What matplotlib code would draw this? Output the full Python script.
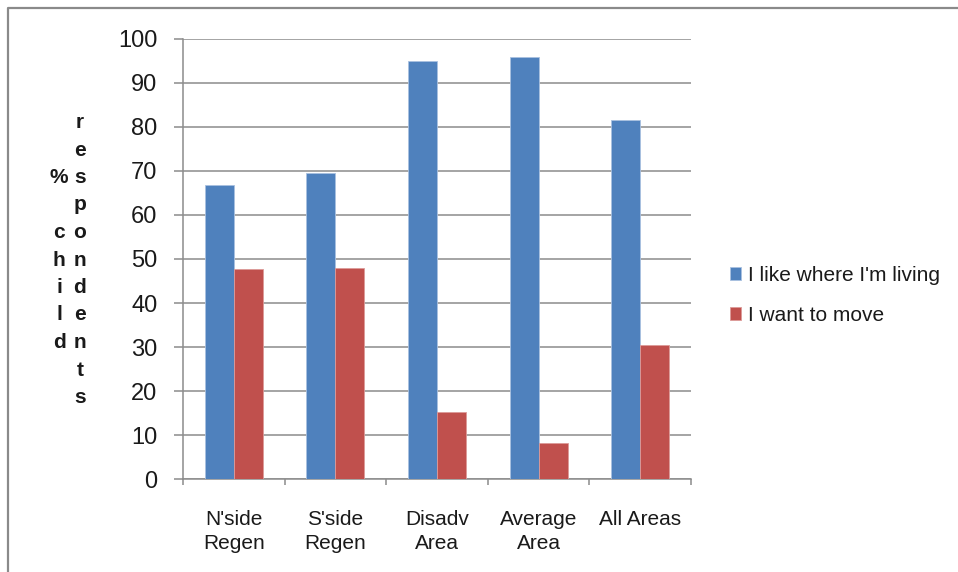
import matplotlib
matplotlib.use("Agg")
import matplotlib.pyplot as plt
from matplotlib.lines import Line2D
from matplotlib.patches import Patch
import numpy as np

# Survey data: % of child respondents per area
categories = ["N'side\nRegen", "S'side\nRegen", "Disadv\nArea", "Average\nArea", "All Areas"]
like_living = [66.7, 69.5, 94.9, 95.8, 81.5]
want_move = [47.7, 47.9, 15.2, 8.2, 30.4]
series_names = ["I like where I'm living", "I want to move"]
series_colors = ["#4F81BD", "#C0504D"]
edge_colors = ["#a9c1e0", "#dc9a98"]
yticks = [0, 10, 20, 30, 40, 50, 60, 70, 80, 90, 100]
ylabel_cols = ["% child", "respondents"]

plt.rcParams["font.family"] = ["Liberation Sans", "DejaVu Sans"]

W, H = 958, 572
fig = plt.figure(figsize=(W / 100, H / 100), dpi=100)
fig.patch.set_facecolor("white")

left, right, top, bottom = 183, 691, 38.7, 479.3
ax = fig.add_axes([left / W, 1 - bottom / H, (right - left) / W, (bottom - top) / H])

x = np.arange(len(categories))
bw = 1 / 3.5
ax.bar(x - bw / 2, like_living, bw, color=series_colors[0], edgecolor=edge_colors[0],
       linewidth=0.6, zorder=3)
ax.bar(x + bw / 2, want_move, bw, color=series_colors[1], edgecolor=edge_colors[1],
       linewidth=0.6, zorder=3)

ax.set_xlim(-0.5, len(categories) - 0.5)
ax.set_ylim(0, 100)
ax.set_yticks(yticks)
ax.set_yticklabels([str(v) for v in yticks])
ax.grid(axis="y", color="#8c8c8c", linewidth=1.1, zorder=0)
ax.set_axisbelow(True)

for s in ("top", "right"):
    ax.spines[s].set_visible(False)
for s in ("left", "bottom"):
    ax.spines[s].set_color("#8c8c8c")
    ax.spines[s].set_linewidth(1.1)

# category boundaries as major ticks, labels on minor ticks at centres
ax.set_xticks(np.arange(len(categories) + 1) - 0.5)
ax.set_xticklabels([""] * (len(categories) + 1))
ax.set_xticks(x, minor=True)
ax.set_xticklabels(categories, minor=True, linespacing=1.35)
ax.tick_params(axis="x", which="major", length=4, color="#8c8c8c", width=1.1)
ax.tick_params(axis="x", which="minor", length=0, pad=22, labelsize=15, labelcolor="#1a1a1a")
ax.tick_params(axis="y", length=6.5, color="#8c8c8c", width=1.1, pad=12, labelsize=17,
               labelcolor="#1a1a1a")

# stacked vertical axis title, two columns
col_x = [59, 80]
spacing = 27.5
center_y = 260
for cx, word in zip(col_x, ylabel_cols):
    n = len(word)
    for i, ch in enumerate(word):
        if ch == " ":
            continue
        y = center_y + (i - (n - 1) / 2) * spacing
        fig.text(cx / W, 1 - y / H, ch, ha="center", va="center", fontsize=15,
                 fontweight="bold", color="#1a1a1a")

# legend
handles = [Patch(facecolor=c, edgecolor=e, linewidth=0.6) for c, e in zip(series_colors, edge_colors)]
fig.legend(handles, series_names, loc="upper left", bbox_to_anchor=(730 / W, 1 - 266 / H),
           frameon=False, fontsize=15, handlelength=0.55, handleheight=0.55,
           handletextpad=0.3, labelspacing=1.0, borderaxespad=0, borderpad=0,
           labelcolor="#1a1a1a")

# chart area frame
fig.add_artist(Line2D([8 / W, 8 / W, 1], [0, 1 - 8 / H, 1 - 8 / H], transform=fig.transFigure,
                      color="#8a8a8a", linewidth=1.6))

fig.savefig("out.png", dpi=100)
